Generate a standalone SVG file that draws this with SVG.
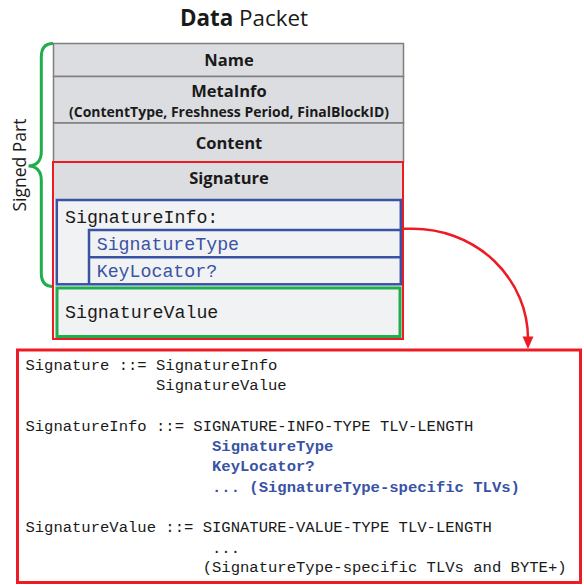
<svg xmlns="http://www.w3.org/2000/svg" width="584" height="585" viewBox="0 0 584 585">
  <style>
    .title { font-family: "Open Sans", "Liberation Sans", sans-serif; font-size: 22.4px; fill: #1a1a1a; }
    .hdr { font-family: "Open Sans", "Liberation Sans", sans-serif; font-weight: bold; font-size: 16.5px; fill: #1a1a1a; text-anchor: middle; }
    .sub { font-family: "Open Sans", "Liberation Sans", sans-serif; font-weight: bold; font-size: 13.5px; fill: #1a1a1a; text-anchor: middle; }
    .row { fill: #dcdde0; stroke: #7f7f7f; stroke-width: 1.5; }
    .inner { fill: #f1f2f4; }
    .blue { fill: none; stroke: #3953a4; stroke-width: 2.5; }
    .green { fill: none; stroke: #1fae4b; stroke-width: 3; }
    .red { fill: none; stroke: #ed1c24; }
    .mono { font-family: "Liberation Mono", "DejaVu Sans Mono", monospace; font-size: 18.25px; fill: #1a1a1a; }
    .code { font-family: "Liberation Mono", "DejaVu Sans Mono", monospace; font-size: 15.55px; fill: #1a1a1a; }
    .kw { fill: #3953a4; }
    .b { font-weight: bold; }
  </style>
  <defs>
    <marker id="arrow" viewBox="0 0 10 10" refX="9" refY="5" markerWidth="4" markerHeight="4" orient="auto" markerUnits="strokeWidth">
      <path d="M0,0 L10,5 L0,10 z" fill="#ed1c24"/>
    </marker>
  </defs>

  <rect width="584" height="585" fill="#ffffff"/>

  <!-- heading -->
  <text class="title" x="244" y="26" text-anchor="middle"><tspan font-weight="bold">Data</tspan> Packet</text>

  <!-- brace marking the signed portion -->
  <g id="signed-part">
    <path class="green" d="M53,43.5 C45,43.5 41.3,48 41.3,57 V152 C41.3,161 36,166 28.5,166 C36,166 41.3,171 41.3,180 V273 C41.3,282 45,286.5 53,286.5"/>
    <text x="26" y="165" transform="rotate(-90 26 165)" text-anchor="middle" font-family="'Open Sans', 'Liberation Sans', sans-serif" font-size="17.5" fill="#1a1a1a">Signed Part</text>
  </g>

  <!-- packet fields -->
  <g id="name">
    <rect class="row" x="53.5" y="43.5" width="350" height="33"/>
    <text class="hdr" x="229" y="66">Name</text>
  </g>
  <g id="metainfo">
    <rect class="row" x="53.5" y="76.5" width="350" height="46.5"/>
    <text class="hdr" x="229" y="96.5">MetaInfo</text>
    <text class="sub" x="229" y="116.5" textLength="320" lengthAdjust="spacingAndGlyphs">(ContentType, Freshness Period, FinalBlockID)</text>
  </g>
  <g id="content">
    <rect class="row" x="53.5" y="123" width="350" height="39"/>
    <text class="hdr" x="229" y="149">Content</text>
  </g>
  <g id="signature">
    <rect x="53" y="162" width="350" height="177" fill="#f1f2f4"/>
    <rect x="53" y="162" width="350" height="37" fill="#dcdde0"/>
    <text class="hdr" x="229" y="184">Signature</text>
    <rect class="red" x="53" y="162" width="350" height="177" stroke-width="2"/>
  </g>
  <g id="signature-info">
    <rect class="inner" x="56.8" y="200" width="344" height="84.3"/>
    <rect class="blue" x="56.8" y="200" width="344" height="84.3"/>
    <path class="blue" d="M89,284.3 V230 H400.8 M89,257.3 H400.8"/>
    <text class="mono" x="65" y="223.3">SignatureInfo:</text>
  </g>
  <g id="signature-type">
    <text class="mono kw" x="96.7" y="250">SignatureType</text>
  </g>
  <g id="key-locator">
    <text class="mono kw" x="96.7" y="277.3">KeyLocator?</text>
  </g>
  <g id="signature-value">
    <rect class="inner" x="57" y="288" width="343" height="48.5"/>
    <rect class="green" x="57" y="288" width="343" height="48.5"/>
    <text class="mono" x="65" y="318.3">SignatureValue</text>
  </g>

  <!-- connector -->
  <g id="connectors">
    <path class="red" stroke-width="2.5" d="M403,228.8 H412 A115,110 0 0 1 528,339"/>
    <path d="M522.5,336.5 L533.5,336.5 L528,349 z" fill="#ed1c24"/>
  </g>

  <!-- grammar -->
  <g id="grammar">
    <rect class="red" x="17.5" y="350" width="563" height="232.5" stroke-width="3"/>
    <text class="code" x="25.4" y="370">Signature ::= SignatureInfo</text>
    <text class="code" x="156" y="390">SignatureValue</text>
    <text class="code" x="25.4" y="430.7">SignatureInfo ::= SIGNATURE-INFO-TYPE TLV-LENGTH</text>
    <text class="code kw b" x="212" y="451">SignatureType</text>
    <text class="code kw b" x="212" y="471">KeyLocator?</text>
    <text class="code kw b" x="212" y="491.5">... (SignatureType-specific TLVs)</text>
    <text class="code" x="25.4" y="531.7">SignatureValue ::= SIGNATURE-VALUE-TYPE TLV-LENGTH</text>
    <text class="code" x="212" y="552.5">...</text>
    <text class="code" x="202.7" y="571.7">(SignatureType-specific TLVs and BYTE+)</text>
  </g>
</svg>
